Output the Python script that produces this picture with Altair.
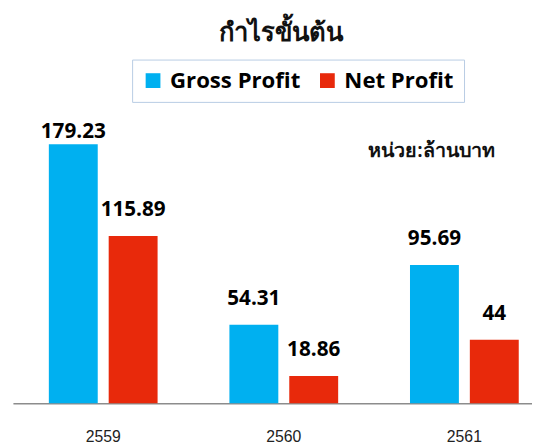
import altair as alt
import pandas as pd

years = ["2559", "2560", "2561"]
gross_profit = [179.23, 54.31, 95.69]
net_profit = [115.89, 18.86, 44]
series = ["Gross Profit", "Net Profit"]
colors = ["#00B0F0", "#E8290B"]
title_text = "กำไรขั้นต้น"
unit_text = "หน่วย:ล้านบาท"

rows = []
for yr, g, n in zip(years, gross_profit, net_profit):
    rows.append({"year": yr, "series": series[0], "value": g, "label": f"{g:g}"})
    rows.append({"year": yr, "series": series[1], "value": n, "label": f"{n:g}"})
df = pd.DataFrame(rows)

x = alt.X(
    "year:N",
    sort=years,
    scale=alt.Scale(range=[1, 551], paddingInner=0, paddingOuter=0),
    axis=alt.Axis(
        title=None, labelAngle=0, ticks=False, domainColor="#8c8c8c", domainWidth=1.5,
        labelFontSize=16, labelFont="Liberation Sans", labelColor="#222222",
        labelPadding=26, grid=False,
    ),
)
xo = alt.XOffset("series:N", sort=series, scale=alt.Scale(paddingInner=0.183, paddingOuter=0.6))
y = alt.Y("value:Q", scale=alt.Scale(domain=[0, 201.8]), axis=None)

bars = alt.Chart(df).mark_bar().encode(
    x=x, xOffset=xo, y=y,
    color=alt.Color(
        "series:N", sort=series,
        scale=alt.Scale(domain=series, range=colors),
        legend=alt.Legend(
            title=None, orient="none", legendX=122, legendY=-53, direction="horizontal",
            symbolType="square", symbolSize=225, symbolStrokeWidth=0,
            labelFont="Open Sans", labelFontSize=22.5, labelFontWeight="bold", labelColor="#000000",
            strokeColor="#B8CCE4", fillColor="#ffffff", padding=10, columnPadding=16,
            labelOffset=6, labelLimit=300,
        ),
    ),
)

text_style = dict(font="Open Sans", fontSize=21, fontWeight="bold", color="#000000", baseline="alphabetic")
labels_low = alt.Chart(df).transform_filter("datum.value <= 150").mark_text(dy=-20, **text_style).encode(
    x=x, xOffset=xo, y=y, text="label:N",
)
labels_high = alt.Chart(df).transform_filter("datum.value > 150").mark_text(dy=-6, **text_style).encode(
    x=x, xOffset=xo, y=y, text="label:N",
)

unit = alt.Chart(pd.DataFrame({"t": [unit_text]})).mark_text(
    font="Noto Sans", fontSize=20, fontWeight=600, color="#111111", baseline="alphabetic"
).encode(x=alt.value(426), y=alt.value(46), text="t:N")

chart = alt.layer(bars, labels_low, labels_high, unit).properties(
    width=528, height=296,
    padding={"left": 4, "top": 102, "right": 0, "bottom": 40},
    autosize=alt.AutoSizeParams(type="none"),
    title=alt.TitleParams(title_text, fontSize=26, font="Noto Sans", fontWeight="bold",
                          anchor="middle", color="#111111", dx=9, dy=-9),
).configure_view(stroke=None)

chart.save("out.html", embed_options={"renderer": "svg", "actions": False})
